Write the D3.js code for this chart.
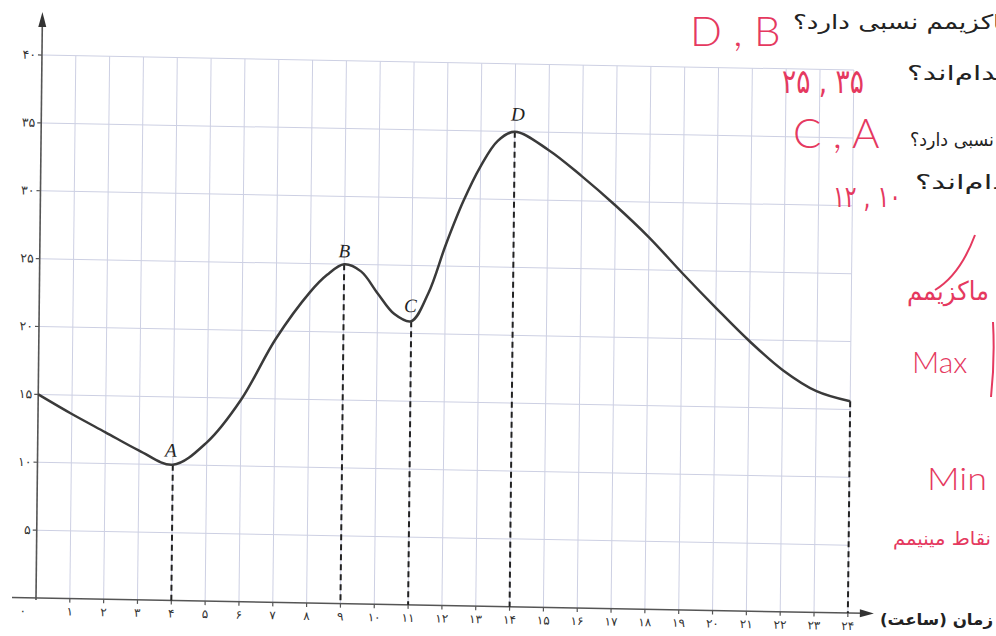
<!DOCTYPE html>
<html><head><meta charset="utf-8">
<script src="https://cdn.jsdelivr.net/npm/d3@7/dist/d3.min.js"></script>
<style>body{margin:0;background:#fff}svg{display:block}</style>
</head><body><svg id="c" width="996" height="636"></svg>
<script>
// ---- data ----
const hours = [0,1,2,3,4,5,6,7,8,8.5,9,9.5,10,10.5,11,11.5,12,12.5,13,13.5,14,15,16,17,18,19,20,21,22,23,24];
const temps = [15,13.6,12.3,11,10,11.7,14.9,19.4,22.9,24.2,25,24.5,22.9,21.4,20.9,23.0,26.6,29.8,32.4,34.3,35,33.7,31.8,29.7,27.4,24.8,22.3,19.9,17.8,16.3,15.6];
const xTickValues = d3.range(0,25);
const xTickLabels = ["۰","۱","۲","۳","۴","۵","۶","۷","۸","۹","۱۰","۱۱","۱۲","۱۳","۱۴","۱۵","۱۶","۱۷","۱۸","۱۹","۲۰","۲۱","۲۲","۲۳","۲۴"];
const yTickValues = [5,10,15,20,25,30,35,40];
const yTickLabels = ["۵","۱۰","۱۵","۲۰","۲۵","۳۰","۳۵","۴۰"];
const pointNames = ["A","B","C","D"];
const pointHours = [4,9,11,14];
const dropHours = [4,9,11,14,24];
const xAxisTitle = "زمان (ساعت)";
const questionLines = ["ماکزیمم نسبی دارد؟","کدام‌اند؟","نسبی دارد؟","کدام‌اند؟"];
const answerLatin = ["D , B","C , A"];
const answerPersian = ["۲۵ , ۳۵","۱۲ , ۱۰"];
const noteMax = ["ماکزیمم","Max"];
const noteMin = ["Min","نقاط مینیمم"];

const svg = d3.select("#c");
const x = d3.scaleLinear().domain([0,24]).range([0,812]);
const y = d3.scaleLinear().domain([0,40]).range([0,-543]);
const valAt = h => temps[hours.indexOf(h)];

const a = 1.06*Math.PI/180, b = 0.63*Math.PI/180;
const g = svg.append("g")
  .attr("transform",`matrix(${Math.cos(a)},${Math.sin(a)},${-Math.sin(b)},${Math.cos(b)},36,598)`);

// grid
const grid = g.append("g").attr("stroke","#cdd0e3").attr("stroke-width",1);
grid.selectAll(".v").data(xTickValues.slice(1)).join("line")
  .attr("x1",d=>x(d)).attr("x2",d=>x(d)).attr("y1",y(0)).attr("y2",y(40));
grid.selectAll(".h").data(yTickValues).join("line")
  .attr("x1",x(0)).attr("x2",x(24)).attr("y1",d=>y(d)).attr("y2",d=>y(d));

// axes
const ax = g.append("g").attr("stroke","#555").attr("stroke-width",1.6);
ax.append("line").attr("x1",-24).attr("x2",828).attr("y1",0).attr("y2",0);
ax.append("line").attr("x1",0).attr("x2",0).attr("y1",2).attr("y2",-575);
g.append("path").attr("d","M838,0 L824,-4 L824,4 Z").attr("fill","#333");
g.append("path").attr("d","M0,-586 L-4,-571 L4,-571 Z").attr("fill","#333");

// x ticks and labels
g.append("g").attr("stroke","#555").attr("stroke-width",1.2)
  .selectAll("line").data(xTickValues.slice(1)).join("line")
  .attr("x1",d=>x(d)).attr("x2",d=>x(d)).attr("y1",0).attr("y2",4);
g.append("g").selectAll("text").data(xTickValues).join("text")
  .attr("x",(d,i)=>i===0? -13 : x(d)).attr("y",17)
  .attr("text-anchor","middle").attr("font-family","DejaVu Sans").attr("font-size",12)
  .attr("fill","#333").text((d,i)=>xTickLabels[i]);

// y ticks and labels
g.append("g").attr("stroke","#555").attr("stroke-width",1.2)
  .selectAll("line").data(yTickValues).join("line")
  .attr("x1",-4).attr("x2",0).attr("y1",d=>y(d)).attr("y2",d=>y(d));
g.append("g").selectAll("text").data(yTickValues).join("text")
  .attr("x",-6).attr("y",d=>y(d)+4)
  .attr("text-anchor","end").attr("font-family","DejaVu Sans").attr("font-size",12.5)
  .attr("fill","#333").text((d,i)=>yTickLabels[i]);

// dashed drop lines
g.append("g").attr("stroke","#222").attr("stroke-width",2).attr("stroke-dasharray","6,4")
  .selectAll("line").data(dropHours).join("line")
  .attr("x1",d=>x(d)).attr("x2",d=>x(d)).attr("y1",d=>y(valAt(d))).attr("y2",0);

// curve
const line = d3.line().x((d,i)=>x(hours[i])).y(d=>y(d)).curve(d3.curveCatmullRom.alpha(0.5));
g.append("path").attr("d",line(temps)).attr("fill","none")
  .attr("stroke","#3a3a3a").attr("stroke-width",2.5);

// point labels
const labOff = [[-2,-8],[0,-7],[-1,-9],[3,-11]];
g.append("g").selectAll("text").data(pointHours).join("text")
  .attr("x",(d,i)=>x(d)+labOff[i][0]).attr("y",(d,i)=>y(valAt(d))+labOff[i][1])
  .attr("text-anchor","middle").attr("font-family","Liberation Serif").attr("font-style","italic")
  .attr("font-size",19).attr("fill","#222").text((d,i)=>pointNames[i]);

// axis title
svg.append("text").attr("x",880).attr("y",625).attr("direction","rtl").attr("text-anchor","end")
  .attr("font-family","DejaVu Sans").attr("font-weight","bold").attr("font-size",16)
  .attr("textLength",113).attr("lengthAdjust","spacingAndGlyphs")
  .attr("fill","#222").text(xAxisTitle);

// question text (runs to the page edge, as in the scan)
const qLeft = [793,907,910,915], qBase = [29,80,146,189], qLen = [222,104,84,108], qSize = [20,20,18,20];
svg.append("g").selectAll("text").data(questionLines).join("text")
  .attr("x",(d,i)=>qLeft[i]).attr("y",(d,i)=>qBase[i]).attr("direction","rtl").attr("text-anchor","end")
  .attr("textLength",(d,i)=>qLen[i]).attr("lengthAdjust","spacingAndGlyphs")
  .attr("font-family","DejaVu Sans").attr("font-size",(d,i)=>qSize[i]).attr("fill","#222").text(d=>d);

// red handwritten answers
const red = "#e5395f";
svg.append("g").selectAll("text").data(answerLatin).join("text")
  .attr("x",(d,i)=>[690,793][i]).attr("y",(d,i)=>[46,148][i])
  .attr("font-family","Lato, Open Sans").attr("font-weight",300).attr("font-size",42)
  .attr("fill",red).text(d=>d);
svg.append("g").selectAll("text").data(answerPersian).join("text")
  .attr("x",(d,i)=>[782,833][i]).attr("y",(d,i)=>[93,207][i])
  .attr("textLength",(d,i)=>[82,68][i]).attr("lengthAdjust","spacingAndGlyphs")
  .attr("font-family","DejaVu Sans").attr("font-size",(d,i)=>[34,30][i])
  .attr("fill",red).text(d=>d);

svg.append("text").attr("x",907).attr("y",300).attr("direction","rtl").attr("text-anchor","end")
  .attr("textLength",82).attr("lengthAdjust","spacingAndGlyphs")
  .attr("font-family","DejaVu Sans").attr("font-size",26).attr("fill",red).text(noteMax[0]);
svg.append("path").attr("d","M975,235 Q960,275 935,290").attr("fill","none").attr("stroke",red).attr("stroke-width",2);
svg.append("text").attr("x",912).attr("y",373)
  .attr("font-family","Lato, Open Sans").attr("font-weight",300).attr("font-size",30).attr("fill",red).text(noteMax[1]);
svg.append("path").attr("d","M993,322 Q995,360 991,397").attr("fill","none").attr("stroke",red).attr("stroke-width",2);
svg.append("text").attr("x",927).attr("y",490)
  .attr("textLength",60).attr("lengthAdjust","spacingAndGlyphs")
  .attr("font-family","Lato, Open Sans").attr("font-weight",300).attr("font-size",32).attr("fill",red).text(noteMin[0]);
svg.append("text").attr("x",893).attr("y",545).attr("direction","rtl").attr("text-anchor","end")
  .attr("textLength",98).attr("lengthAdjust","spacingAndGlyphs")
  .attr("font-family","DejaVu Sans").attr("font-size",19).attr("fill",red).text(noteMin[1]);
</script></body></html>
